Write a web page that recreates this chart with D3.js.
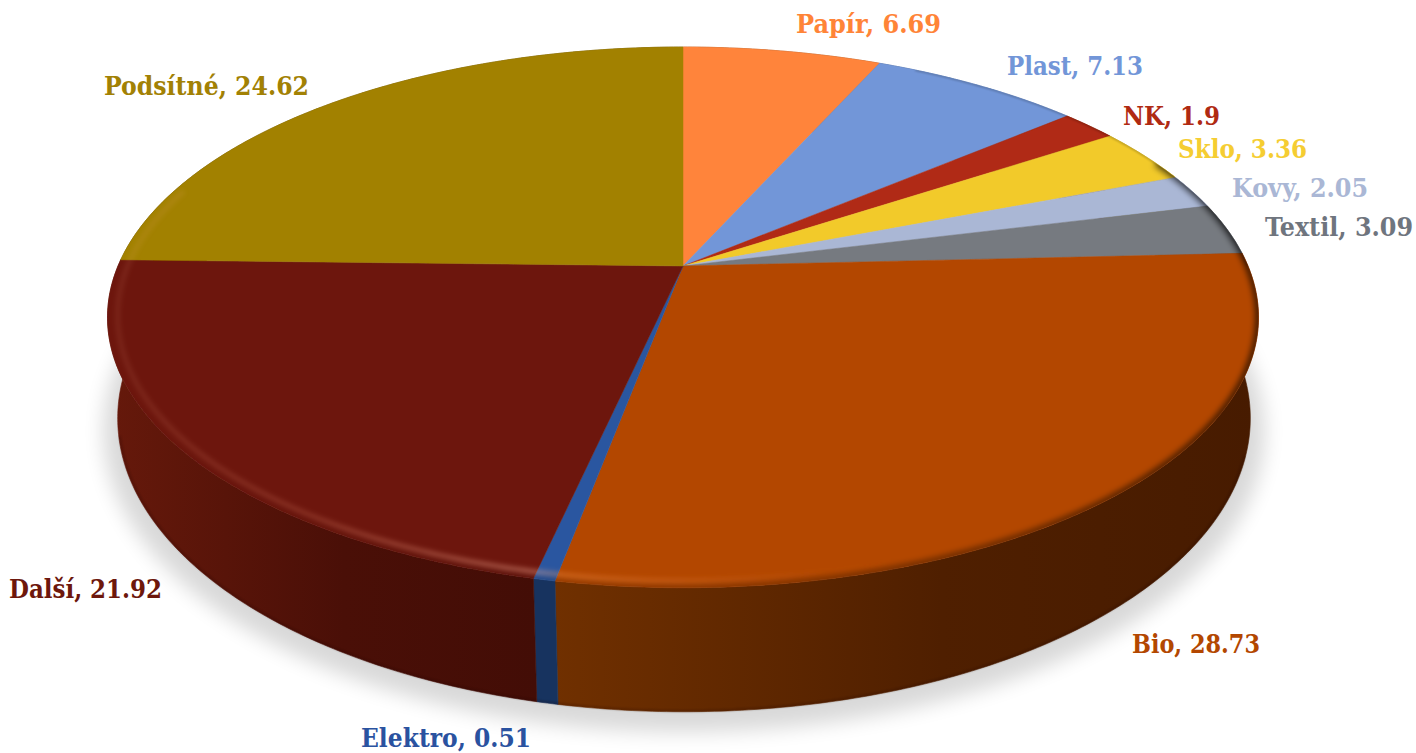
<!DOCTYPE html>
<html>

<head>
  <meta charset="utf8">
  <script src="https://d3js.org/d3.v7.min.js"></script>
  <style>
    html, body {
      margin: 0;
      background: #fff;
      overflow: hidden;
    }

    .label {
      font-family: "DejaVu Serif Condensed", "DejaVu Serif", serif;
      font-weight: bold;
      font-size: 26px;
    }
  </style>
</head>

<body>
  <svg id="chart" width="1416" height="753"></svg>

  <script>
    var categories = ["Papír", "Plast", "NK", "Sklo", "Kovy", "Textil", "Bio", "Elektro", "Další", "Podsítné"];
    var values = [6.69, 7.13, 1.9, 3.36, 2.05, 3.09, 28.73, 0.51, 21.92, 24.62];
    var faceColors = ["#ff843a", "#7296d8", "#b02a12", "#f2ca2c", "#aab7d5", "#767a80", "#b34700", "#2a56a0", "#6d170c", "#a28104"];
    var labelColors = ["#ff8437", "#7296d8", "#b02a12", "#f5cd32", "#aab7d5", "#6f757e", "#b34700", "#2a52a0", "#6d170c", "#a28104"];
    var wallLight = ["#a0501f", "#46608c", "#6c1a0b", "#94801c", "#6c7488", "#4c4e52", "#703000", "#17335f", "#66190b", "#6a5402"];
    var wallDark = ["#a0501f", "#46608c", "#6c1a0b", "#94801c", "#6c7488", "#3c3e42", "#471b00", "#17335f", "#430d06", "#6a5402"];

    // label box in the picture: left edge, baseline, width
    var labelX = [796, 1007, 1123, 1178, 1232, 1265, 1132, 361, 9, 104];
    var labelY = [33, 75, 125, 158, 197, 236, 653, 747, 598, 95];
    var labelW = [145, 136, 97, 129, 136, 148, 128, 170, 153, 205];

    var chart = d3.select('#chart');
    var defs = chart.append('defs');

    // perspective view of the disc, top and bottom face
    var topFace = { x0: 683, y0: 266, a: 565, b: 260.6, k: 0.19 };
    var bottomFace = { x0: 684, y0: 362.5, a: 556, b: 282.9, k: 0.19 };

    function project(face, angle, r) {
      var u = Math.sin(angle) * r;
      var v = -Math.cos(angle) * r;
      var d = 1 - face.k * v;
      return [face.x0 + face.a * u / d, face.y0 + face.b * v / d];
    }

    function arcPoints(face, a0, a1, r) {
      var n = Math.max(2, Math.ceil(Math.abs(a1 - a0) / 0.01));
      return d3.range(n + 1).map((i) => project(face, a0 + (a1 - a0) * i / n, r));
    }

    var line = d3.line();
    var arcs = d3.pie().sort(null).value((d) => d)(values);
    var fullTurn = Math.PI * 2;

    function blur(id, dev) {
      defs.append('filter')
        .attr('id', id)
        .attr('x', '-10%').attr('y', '-10%').attr('width', '120%').attr('height', '120%')
        .append('feGaussianBlur')
        .attr('stdDeviation', dev);
    }
    blur('shadowBlur', 10);
    blur('rimBlur', 2.4);
    blur('shadeBlur', 3);
    blur('edgeBlur', 1);
    blur('faceBlur', 0.5);

    function edgeGradient(id, stops) {
      var grad = defs.append('linearGradient')
        .attr('id', id)
        .attr('gradientUnits', 'userSpaceOnUse')
        .attr('x1', 108).attr('x2', 1258)
        .attr('y1', 0).attr('y2', 0);
      stops.forEach((s) => {
        grad.append('stop')
          .attr('offset', s[0])
          .attr('stop-color', s[1])
          .attr('stop-opacity', s[2]);
      });
    }

    defs.append('clipPath')
      .attr('id', 'faceClip')
      .append('path')
      .attr('d', line(arcPoints(topFace, 0, fullTurn, 1)) + 'Z');

    // soft shadow under the disc
    chart.append('path')
      .attr('d', line(arcPoints({ x0: 684, y0: 374, a: 570, b: 290, k: 0.19 }, 0, fullTurn, 1)) + 'Z')
      .attr('fill', '#000')
      .attr('opacity', 0.15)
      .attr('filter', 'url(#shadowBlur)');

    // side walls
    arcs.forEach((d, i) => {
      var top = arcPoints(topFace, d.startAngle, d.endAngle, 1);
      var bottom = arcPoints(bottomFace, d.endAngle, d.startAngle, 1);
      var xs = top.concat(bottom).map((p) => p[0]);
      var grad = defs.append('linearGradient')
        .attr('id', 'wall' + i)
        .attr('gradientUnits', 'userSpaceOnUse')
        .attr('x1', d3.min(xs)).attr('x2', d3.max(xs))
        .attr('y1', 0).attr('y2', 0);
      grad.append('stop').attr('offset', 0).attr('stop-color', wallLight[i]);
      grad.append('stop').attr('offset', 0.55).attr('stop-color', d3.interpolateRgb(wallLight[i], wallDark[i])(0.8));
      grad.append('stop').attr('offset', 1).attr('stop-color', wallDark[i]);
      chart.append('path')
        .attr('d', line(top.concat(bottom)) + 'Z')
        .attr('fill', 'url(#wall' + i + ')')
        .attr('stroke', 'url(#wall' + i + ')')
        .attr('stroke-width', 0.6);
    });

    // dark line along the foot of the wall
    chart.append('path')
      .attr('d', line(arcPoints(bottomFace, Math.PI * 0.6, Math.PI * 1.42, 0.998)))
      .attr('fill', 'none')
      .attr('stroke', '#1c0600')
      .attr('stroke-width', 1.5)
      .attr('opacity', 0.3)
      .attr('filter', 'url(#edgeBlur)');

    // top face slices
    var faces = chart.append('g').attr('filter', 'url(#faceBlur)');
    arcs.forEach((d, i) => {
      var pts = [project(topFace, 0, 0)].concat(arcPoints(topFace, d.startAngle, d.endAngle, 1));
      faces.append('path')
        .attr('d', line(pts) + 'Z')
        .attr('fill', faceColors[i])
        .attr('stroke', faceColors[i])
        .attr('stroke-width', 0.5);
    });

    // bevel: the face runs softly into the wall, and darkens to the right
    edgeGradient('edgeShade', [
      [0, '#000', 0],
      [0.14, '#000', 0.08],
      [0.36, '#000', 0.22],
      [0.6, '#000', 0.4],
      [0.78, '#000', 0.55],
      [1, '#000', 0.85]
    ]);
    chart.append('g')
      .attr('clip-path', 'url(#faceClip)')
      .append('path')
      .attr('d', line(arcPoints(topFace, Math.PI * 0.36, Math.PI * 1.5, 1)))
      .attr('fill', 'none')
      .attr('stroke', 'url(#edgeShade)')
      .attr('stroke-width', 5)
      .attr('filter', 'url(#shadeBlur)');

    // bevel: pale band along the front left
    edgeGradient('rim', [
      [0, '#ffb090', 0.1],
      [0.17, '#ffa080', 0.2],
      [0.37, '#ffb8a0', 0.42],
      [0.395, '#ff9a50', 0.36],
      [0.5, '#ff9a50', 0.22],
      [0.62, '#ff9a50', 0.03],
      [0.7, '#ff9a50', 0]
    ]);
    chart.append('path')
      .attr('d', line(arcPoints(topFace, Math.PI * 0.6, Math.PI * 1.6, 0.983)))
      .attr('fill', 'none')
      .attr('stroke', 'url(#rim)')
      .attr('stroke-width', 4.5)
      .attr('filter', 'url(#rimBlur)');

    // thin shade on the upper right edge
    chart.append('g')
      .attr('clip-path', 'url(#faceClip)')
      .append('path')
      .attr('d', line(arcPoints(topFace, 0.5, Math.PI * 0.5, 1)))
      .attr('fill', 'none')
      .attr('stroke', '#000')
      .attr('stroke-width', 1.6)
      .attr('opacity', 0.3)
      .attr('filter', 'url(#edgeBlur)');

    // labels
    chart.selectAll('.label')
      .data(categories)
      .enter()
      .append('text')
      .attr('class', 'label')
      .attr('x', (d, i) => labelX[i])
      .attr('y', (d, i) => labelY[i])
      .attr('textLength', (d, i) => labelW[i])
      .attr('lengthAdjust', 'spacingAndGlyphs')
      .attr('fill', (d, i) => labelColors[i])
      .text((d, i) => d + ', ' + values[i]);
  </script>
</body>

</html>
